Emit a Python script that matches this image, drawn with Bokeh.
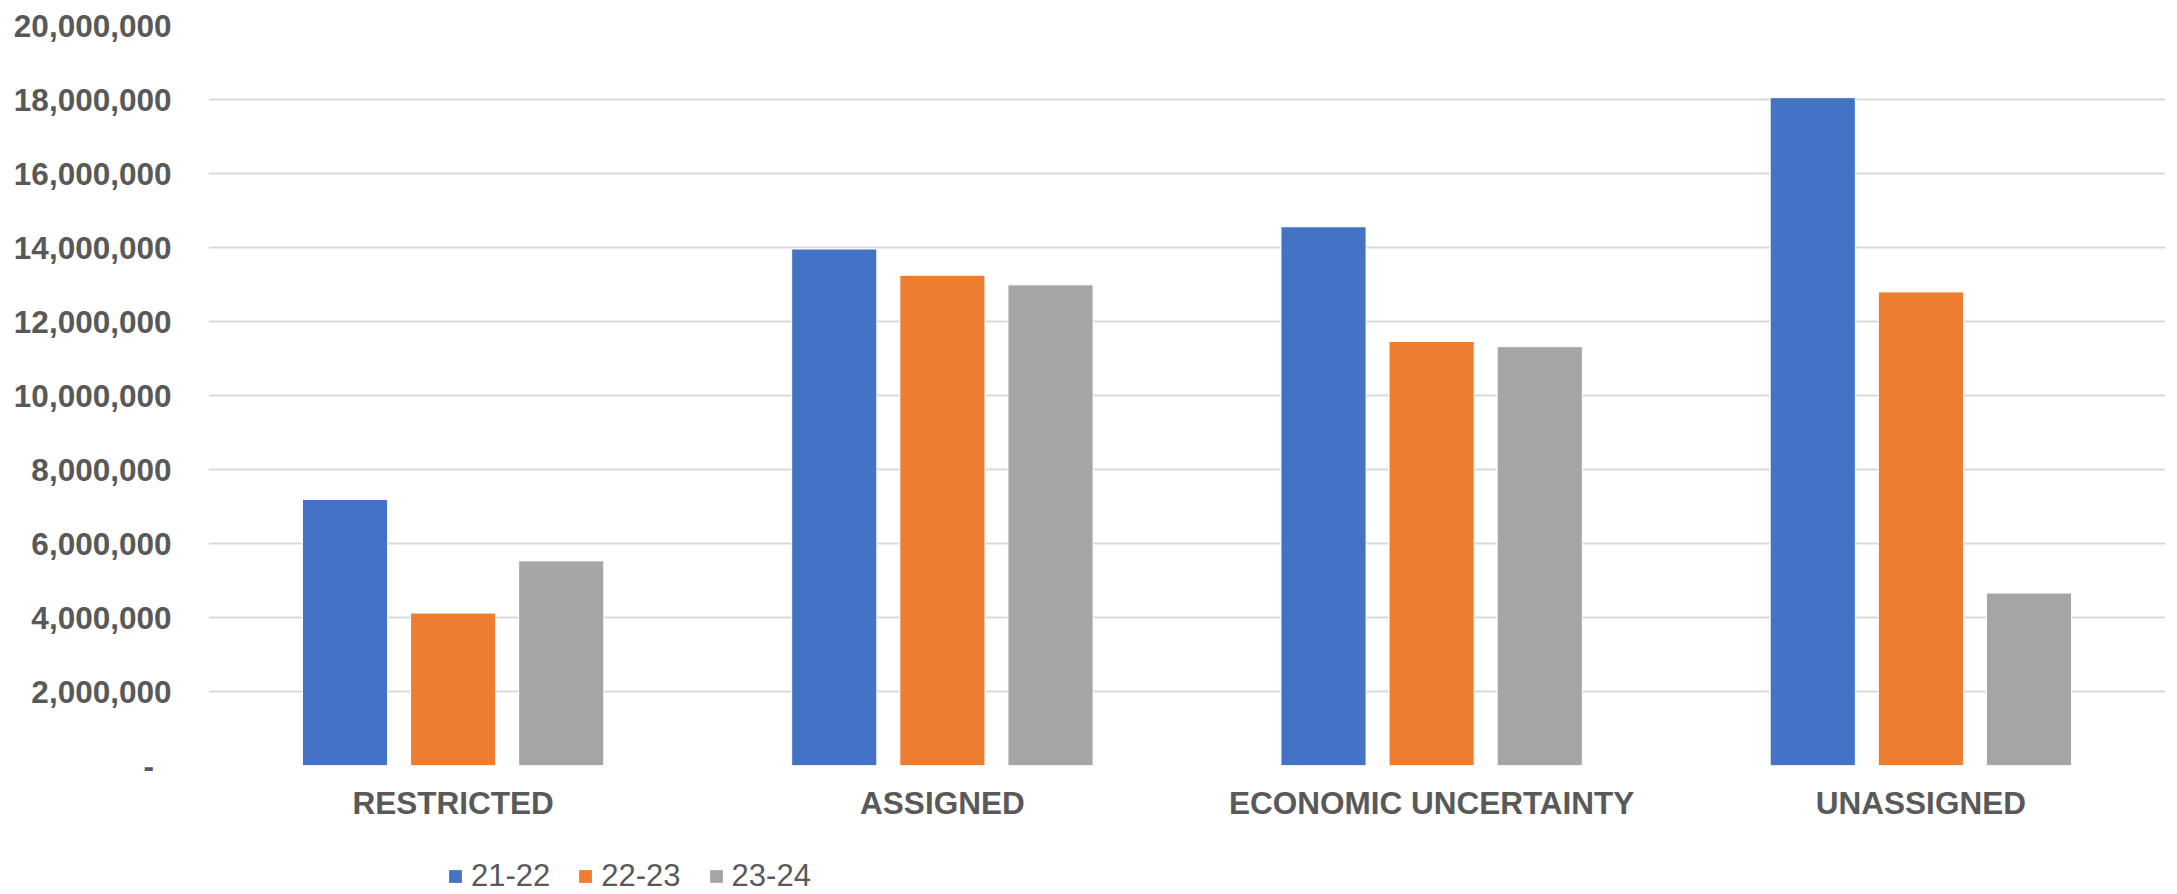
from bokeh.plotting import figure
from bokeh.layouts import column
from bokeh.models import ColumnDataSource, FactorRange, Range1d, Legend, LegendItem, CustomJSTickFormatter, FixedTicker
from bokeh.transform import dodge
from bokeh.embed import file_html
from bokeh.resources import INLINE

categories = ["RESTRICTED", "ASSIGNED", "ECONOMIC UNCERTAINTY", "UNASSIGNED"]
series_names = ["21-22", "22-23", "23-24"]
v_21_22 = [7190000, 13960000, 14560000, 18050000]
v_22_23 = [4120000, 13250000, 11460000, 12800000]
v_23_24 = [5530000, 12990000, 11320000, 4660000]
y_ticks = [0, 2000000, 4000000, 6000000, 8000000, 10000000, 12000000, 14000000, 16000000, 18000000, 20000000]

colors = ["#4472C4", "#ED7D31", "#A5A5A5"]
src = ColumnDataSource(dict(cat=categories, s0=v_21_22, s1=v_22_23, s2=v_23_24))

FONT = "Liberation Sans"
GREY = "#595959"

p = figure(width=2177, height=830, x_range=FactorRange(*categories, range_padding=0),
           y_range=Range1d(0, 20000000), output_backend="svg", toolbar_location=None,
           min_border_left=208, min_border_right=12, min_border_top=25, min_border_bottom=65)
p.outline_line_color = None

renderers = []
offsets = [-0.221, 0.0, 0.221]
for i, key in enumerate(["s0", "s1", "s2"]):
    r = p.vbar(x=dodge("cat", offsets[i], range=p.x_range), top=key, width=0.174, source=src,
               fill_color=colors[i], line_color="white", line_width=1)
    renderers.append(r)

p.yaxis.ticker = FixedTicker(ticks=y_ticks)
p.yaxis.formatter = CustomJSTickFormatter(code="return tick == 0 ? '-\u00a0\u00a0' : tick.toLocaleString('en-US');")
p.yaxis.axis_line_color = None
p.yaxis.major_tick_line_color = None
p.yaxis.minor_tick_line_color = None
p.yaxis.major_label_standoff = 31
p.yaxis.major_label_text_font = FONT
p.yaxis.major_label_text_font_size = "31.5px"
p.yaxis.major_label_text_font_style = "bold"
p.yaxis.major_label_text_color = GREY

p.xaxis.axis_line_color = None
p.xaxis.major_tick_line_color = None
p.xaxis.minor_tick_line_color = None
p.xaxis.major_label_standoff = 13
p.xaxis.major_label_text_font = FONT
p.xaxis.major_label_text_font_size = "31.5px"
p.xaxis.major_label_text_font_style = "bold"
p.xaxis.major_label_text_color = GREY

p.xgrid.grid_line_color = None
p.ygrid.grid_line_color = "#D9D9D9"
p.ygrid.grid_line_width = 2

# legend strip below the chart
lg = figure(width=2177, height=64, x_range=Range1d(0, 1), y_range=Range1d(0, 1),
            output_backend="svg", toolbar_location=None, x_axis_location=None, y_axis_location=None,
            min_border_left=0, min_border_right=0, min_border_top=0, min_border_bottom=0)
lg.outline_line_color = None
lg.xgrid.grid_line_color = None
lg.ygrid.grid_line_color = None
dummies = [lg.vbar(x=[0.5], top=[0], bottom=[0], width=0.0, fill_color=colors[i], line_color=None)
           for i in range(3)]

legend = Legend(items=[LegendItem(label=series_names[i], renderers=[dummies[i]]) for i in range(3)],
                orientation="horizontal", location=(239, 0),
                label_text_font=FONT, label_text_font_size="31px", label_text_color=GREY,
                glyph_width=16, glyph_height=16, label_standoff=8, spacing=27,
                border_line_color=None, background_fill_alpha=0, padding=0, margin=0)
lg.add_layout(legend, "center")

layout = column(p, lg, spacing=0)
open("out.html", "w").write(file_html(layout, INLINE))
